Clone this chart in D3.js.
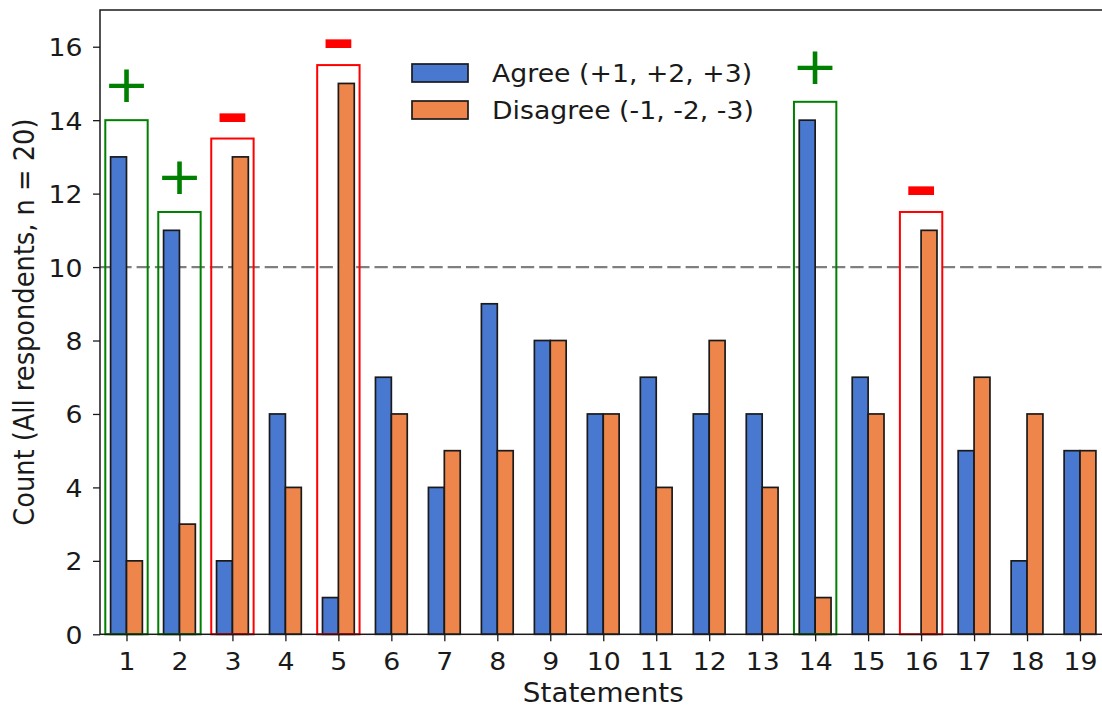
<!DOCTYPE html>
<html>
<head>
<meta charset="utf-8">
<script src="https://cdn.jsdelivr.net/npm/d3@7/dist/d3.min.js"></script>
<style>
  html, body { margin: 0; padding: 0; background: #fff; overflow: hidden; }
  svg { display: block; font-family: "DejaVu Sans", sans-serif; }
</style>
</head>
<body>
<svg id="chart" width="1102" height="706"></svg>
<script>
// Statements 1..19 and response counts
const statements = d3.range(1, 20);
const agree    = [13, 11, 2, 6, 1, 7, 4, 9, 8, 6, 7, 6, 6, 14, 7, 0, 5, 2, 5];
const disagree = [2, 3, 13, 4, 15, 6, 5, 5, 8, 6, 4, 8, 4, 1, 6, 11, 7, 6, 5];
const yTicks = [0, 2, 4, 6, 8, 10, 12, 14, 16];

// Statements with a clear majority: outline height and direction
const hlStatements = [1, 2, 3, 5, 14, 16];
const hlTops       = [14, 11.5, 13.5, 15.5, 14.5, 11.5];
const hlSigns      = ["+", "+", "-", "-", "+", "-"];
const majorityLine = 10;

const seriesNames = ["Agree (+1, +2, +3)", "Disagree (-1, -2, -3)"];
const colors = ["#4878d0", "#ee854a"];

const svg = d3.select("#chart");
const mLeft = 100, mRight = 1106.5, mTop = 10, mBottom = 634.3;
const sx = 1.07;          // horizontal text stretch
const ink = "#1a1a1a";

const x = d3.scaleLinear().domain([0.5, 19.5]).range([mLeft, mRight]);
const y = d3.scaleLinear().domain([0, 17]).range([mBottom, mTop]);
const barW = 0.3;

const plot = svg.append("g");

// majority threshold
plot.append("line")
  .attr("x1", x(0.5)).attr("x2", x(19.5))
  .attr("y1", y(majorityLine)).attr("y2", y(majorityLine))
  .attr("stroke", "#7f7f7f").attr("stroke-width", 2.2)
  .attr("stroke-dasharray", "13.3,5");

// grouped bars
const series = [agree, disagree];
series.forEach((vals, si) => {
  plot.append("g").selectAll("rect")
    .data(statements.map((s, i) => ({ s, v: vals[i] })))
    .join("rect")
    .attr("x", d => x(d.s + (si === 0 ? -barW : 0)))
    .attr("width", x(barW) - x(0))
    .attr("y", d => y(d.v))
    .attr("height", d => y(0) - y(d.v))
    .attr("fill", colors[si])
    .attr("stroke", ink)
    .attr("stroke-width", 1.7);
});

// majority outlines and signs
const hl = hlStatements.map((s, i) => ({ s, h: hlTops[i], sign: hlSigns[i] }));
plot.append("g").selectAll("rect")
  .data(hl)
  .join("rect")
  .attr("x", d => x(d.s - 0.4))
  .attr("width", x(0.8) - x(0))
  .attr("y", d => y(d.h))
  .attr("height", d => y(0) - y(d.h))
  .attr("fill", "none")
  .attr("stroke", d => d.sign === "+" ? "green" : "red")
  .attr("stroke-width", 2);

plot.append("g").selectAll("text")
  .data(hl)
  .join("text")
  .attr("transform", d => d.sign === "+"
    ? `translate(${x(d.s)},${y(d.h + 0.95) + 17}) scale(1.09,1)`
    : `translate(${x(d.s)},${y(d.h + 0.62) + 19}) scale(1.4,1)`)
  .attr("text-anchor", "middle")
  .attr("fill", d => d.sign === "+" ? "green" : "red")
  .style("font-size", d => d.sign === "+" ? "51px" : "60px")
  .style("font-weight", d => d.sign === "+" ? "normal" : "bold")
  .text(d => d.sign);

// axes
const xAxis = svg.append("g")
  .attr("transform", `translate(0,${mBottom})`)
  .call(d3.axisBottom(x).tickValues(statements).tickSizeOuter(0).tickSize(7).tickPadding(11));
const yAxis = svg.append("g")
  .attr("transform", `translate(${mLeft},0)`)
  .call(d3.axisLeft(y).tickValues(yTicks).tickSizeOuter(0).tickSize(7).tickPadding(10));
[xAxis, yAxis].forEach(a => {
  a.selectAll("text").style("font-size", "25px").attr("fill", ink)
    .style("font-family", "DejaVu Sans")
    .attr("transform", `scale(${sx},1)`);
  a.selectAll(".tick line").attr("stroke", ink).attr("stroke-width", 1.3);
  a.select(".domain").remove();
});
yAxis.selectAll("text").attr("dy", "0.36em").attr("x", -17.5 / sx);

// frame
svg.append("rect")
  .attr("x", mLeft).attr("y", mTop)
  .attr("width", mRight - mLeft).attr("height", mBottom - mTop)
  .attr("fill", "none").attr("stroke", ink).attr("stroke-width", 1.5);

// axis titles
svg.append("text")
  .attr("transform", `translate(${(mLeft + mRight) / 2},702) scale(${sx},1)`)
  .attr("text-anchor", "middle")
  .style("font-size", "26px").attr("fill", ink)
  .text("Statements");
svg.append("text")
  .attr("transform", `translate(34,${(mTop + mBottom) / 2}) rotate(-90) scale(1,${sx})`)
  .attr("text-anchor", "middle")
  .style("font-size", "25.7px").attr("fill", ink)
  .text("Count (All respondents, n = 20)");

// legend
const legend = svg.append("g");
seriesNames.forEach((name, i) => {
  const ly = 64 + i * 37;
  legend.append("rect")
    .attr("x", 412).attr("y", ly).attr("width", 56).attr("height", 18)
    .attr("fill", colors[i]).attr("stroke", ink).attr("stroke-width", 1.7);
  legend.append("text")
    .attr("transform", `translate(492,${ly + 18.3}) scale(${sx},1)`)
    .style("font-size", "25px").attr("fill", ink)
    .text(name);
});
</script>
</body>
</html>
